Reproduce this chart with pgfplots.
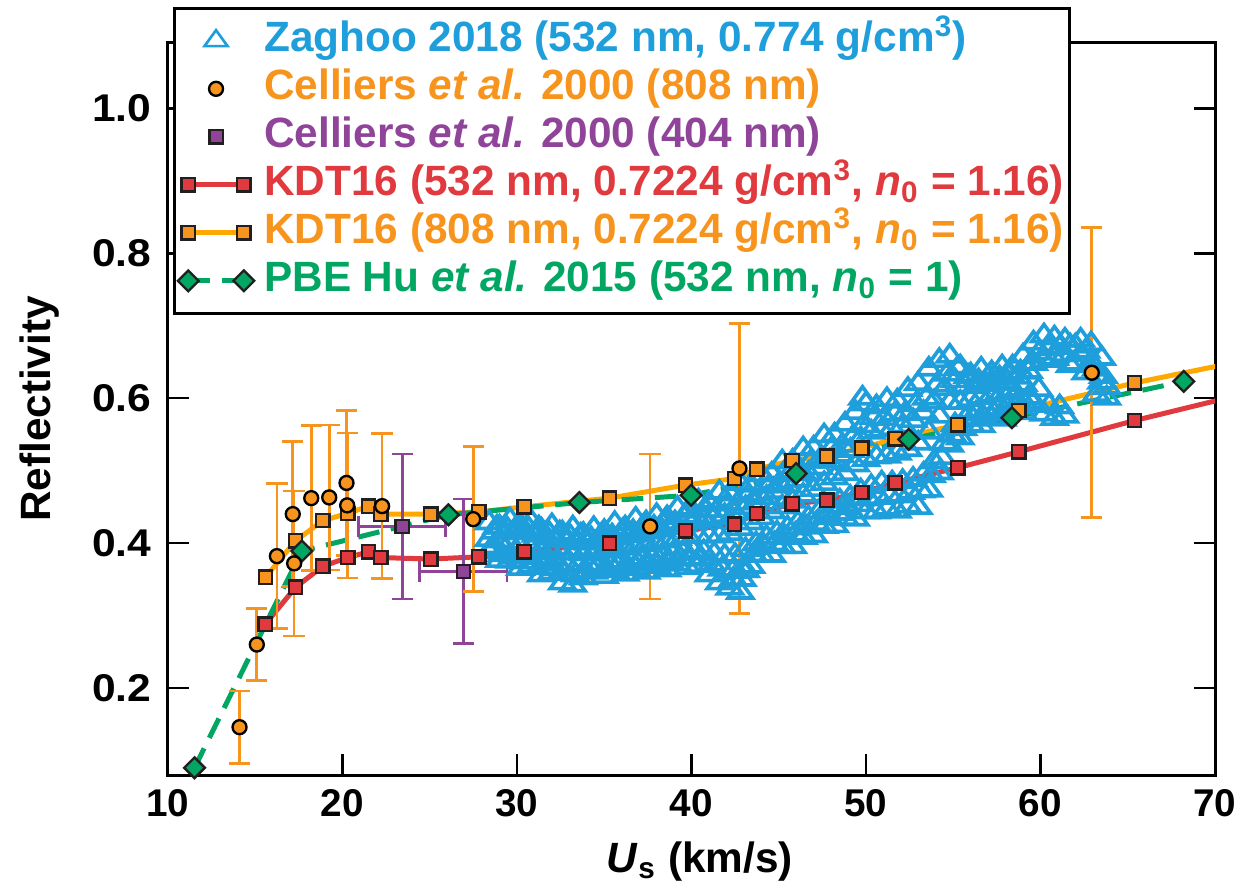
\documentclass[border=0pt]{standalone}
\usepackage{fontspec}
\setmainfont{Liberation Sans}
\usepackage{pgfplots}
\pgfplotsset{compat=1.18}
\definecolor{zblue}{HTML}{1E9EDA}
\definecolor{corange}{HTML}{F7941D}
\definecolor{cpurple}{HTML}{8F4499}
\definecolor{kred}{HTML}{E0393E}
\definecolor{kline}{HTML}{FFA800}
\definecolor{pgreen}{HTML}{00A661}
\definecolor{edge}{HTML}{231F20}
\newcommand\legfont{\fontsize{12.7}{14}\selectfont\bfseries}
\newcommand\tickfont{\fontsize{11.6}{12}\selectfont\bfseries}
\pgfplotsset{
  lineleg/.style={legend image code/.code={\path (-2.2pt,0pt) (18.9pt,0pt); \draw[##1] plot coordinates {(0pt,0pt) (16.7pt,0pt)};}},
  markleg/.style={legend image code/.code={\path (-2.2pt,0pt) (18.9pt,0pt); \draw[##1] plot coordinates {(8.35pt,0pt)};}},
}
\begin{document}
\begin{tikzpicture}
\path (-50.4pt,-34.5pt) rectangle (324.9pt,232.5pt);
\begin{axis}[
  at={(0,0)}, anchor=south west,
  scale only axis, width=314.1pt, height=219.6pt,
  xmin=10, xmax=70, ymin=0.08, ymax=1.09,
  xtick={10,20,...,70}, ytick={0.2,0.4,0.6,0.8,1.0},
  tick align=inside, major tick length=6.3pt,
  every tick/.style={black, line width=0.8pt},
  axis line style={line width=0.9pt},
  /pgf/number format/assume math mode=true,
  yticklabel style={/pgf/number format/fixed, /pgf/number format/fixed zerofill, /pgf/number format/precision=1, font=\tickfont, inner sep=0pt, xshift=-4.8pt, xscale=1.1},
  xticklabel style={font=\tickfont, inner sep=0pt, yshift=-4.2pt},
  every axis x label/.style={at={(axis description cs:0.508,0)}, anchor=base, yshift=-29.1pt, font=\legfont},
  every axis y label/.style={at={(axis description cs:-0.1223,0.5)}, rotate=90, anchor=center, font=\legfont},
  xlabel={\textit{U}\textsubscript{s} (km/s)},
  ylabel={Reflectivity},
  legend cell align=left,
  legend style={at={(axis description cs:0,1)}, anchor=north west, xshift=1.5pt, yshift=10.8pt,
    draw=black, line width=0.9pt, fill=white, font=\legfont,
    inner xsep=1pt, inner ysep=2.5pt, column sep=2.5pt, row sep=0pt,
    nodes={text height=9.8pt, text depth=3.6pt, inner sep=0.5pt}},
]
% legend images
\addlegendimage{zblue, only marks, mark=triangle, mark size=3.2pt, mark options={xscale=1.25, line width=0.8pt}, markleg}
\addlegendentry{\textcolor{zblue}{Zaghoo 2018 (532 nm, 0.774 g/cm\textsuperscript{3})}}
\addlegendimage{only marks, mark=*, mark size=2.1pt, mark options={fill=corange, draw=black, line width=0.7pt}, markleg}
\addlegendentry{\textcolor{corange}{Celliers \textit{et al.} 2000 (808 nm)}}
\addlegendimage{only marks, mark=square*, mark size=2pt, mark options={fill=cpurple, draw=edge, line width=0.7pt}, markleg}
\addlegendentry{\textcolor{cpurple}{Celliers \textit{et al.} 2000 (404 nm)}}
\addlegendimage{kred, line width=1.5pt, mark=square*, mark size=2pt, mark options={fill=kred, draw=edge, line width=0.7pt, solid}, lineleg}
\addlegendentry{\textcolor{kred}{KDT16 (532 nm, 0.7224 g/cm\textsuperscript{3}, \textit{n}\textsubscript{0} = 1.16)}}
\addlegendimage{kline, line width=1.5pt, mark=square*, mark size=2pt, mark options={fill=corange, draw=edge, line width=0.7pt, solid}, lineleg}
\addlegendentry{\textcolor{corange}{KDT16 (808 nm, 0.7224 g/cm\textsuperscript{3}, \textit{n}\textsubscript{0} = 1.16)}}
\addlegendimage{pgreen, line width=1.5pt, dash pattern=on 6.5pt off 3.5pt, mark=square*, mark size=2.2pt, mark options={rotate=45, fill=pgreen, draw=edge, line width=0.7pt, solid}, lineleg}
\addlegendentry{\textcolor{pgreen}{PBE Hu \textit{et al.} 2015 (532 nm, \textit{n}\textsubscript{0} = 1)}}

% Zaghoo 2018
\addplot[forget plot, zblue, only marks, mark=triangle, mark size=3.4pt, mark options={xscale=1.25, line width=1.1pt}] coordinates {
(28.4,.388) (28.7,.395) (28.4,.405) (28.7,.415) (28.4,.428)
(29.0,.376) (29.3,.391) (29.0,.403) (29.3,.415) (29.0,.422)
(29.6,.375) (29.9,.387) (29.6,.401) (29.9,.415) (29.6,.432)
(30.2,.365) (30.5,.383) (30.2,.398) (30.5,.414) (30.2,.425)
(30.8,.368) (31.1,.380) (30.8,.395) (31.1,.411) (30.8,.430)
(31.4,.356) (31.7,.375) (31.4,.391) (31.7,.407) (31.4,.418)
(32.0,.359) (32.3,.371) (32.0,.388) (32.3,.404) (32.0,.424)
(32.6,.345) (32.9,.371) (32.6,.387) (32.9,.403) (32.6,.414)
(33.2,.342) (33.5,.370) (33.2,.386) (33.5,.401) (33.2,.421)
(33.8,.352) (34.1,.370) (33.8,.385) (34.1,.400) (33.8,.412)
(34.4,.360) (34.7,.371) (34.4,.387) (34.7,.402) (34.4,.420)
(35.0,.354) (35.3,.373) (35.0,.389) (35.3,.404) (35.0,.416)
(35.6,.362) (35.9,.375) (35.6,.391) (35.9,.407) (35.6,.427)
(36.2,.357) (36.5,.377) (36.2,.393) (36.5,.410) (36.2,.421)
(36.8,.365) (37.1,.379) (36.8,.396) (37.1,.412) (36.8,.433)
(37.4,.360) (37.7,.381) (37.4,.398) (37.7,.415) (37.4,.428)
(38.0,.368) (38.3,.383) (38.0,.400) (38.3,.418) (38.0,.438)
(38.6,.363) (38.9,.385) (38.6,.403) (38.9,.421) (38.6,.435)
(39.2,.371) (39.5,.387) (39.2,.406) (39.5,.425) (39.2,.448)
(39.8,.366) (40.1,.389) (39.8,.409) (40.1,.429) (39.8,.444)
(40.4,.369) (40.7,.388) (40.4,.410) (40.7,.432) (40.4,.458)
(41.0,.356) (41.3,.385) (41.0,.410) (41.3,.435) (41.0,.455)
(41.6,.345) (41.9,.382) (41.6,.410) (41.9,.438) (41.6,.470)
(42.2,.338) (42.5,.383) (42.2,.413) (42.5,.442) (42.2,.468) (42.4,.350)
(42.8,.332) (43.1,.391) (42.8,.420) (43.1,.449) (42.8,.482) (42.9,.350) (43.1,.362)
(43.4,.368) (43.7,.399) (43.4,.428) (43.7,.456) (43.4,.480)
(44.0,.383) (44.3,.408) (44.0,.435) (44.3,.463) (44.0,.494)
(44.6,.383) (44.9,.414) (44.6,.443) (44.9,.471) (44.6,.495)
(45.2,.395) (45.5,.421) (45.2,.450) (45.5,.479) (45.2,.512)
(45.8,.395) (46.1,.428) (45.8,.458) (46.1,.487) (45.8,.513)
(46.4,.408) (46.7,.435) (46.4,.466) (46.7,.496) (46.4,.530)
(47.0,.410) (47.3,.443) (47.0,.474) (47.3,.504) (47.0,.531)
(47.6,.423) (47.9,.451) (47.6,.482) (47.9,.513) (47.6,.548)
(48.2,.424) (48.5,.458) (48.2,.490) (48.5,.521) (48.2,.549)
(48.8,.434) (49.1,.463) (48.8,.496) (49.1,.528) (48.8,.564)
(49.4,.433) (49.7,.472) (49.4,.508) (49.7,.544) (49.4,.580)
(50.0,.443) (50.3,.478) (50.0,.515) (50.3,.553) (50.0,.592) (49.8,.600)
(50.6,.443) (50.9,.483) (50.6,.519) (50.9,.556) (50.6,.588)
(51.2,.448) (51.5,.483) (51.2,.520) (51.5,.558) (51.2,.598)
(51.8,.444) (52.1,.485) (51.8,.524) (52.1,.562) (51.8,.596)
(52.4,.451) (52.7,.488) (52.4,.529) (52.7,.569) (52.4,.612)
(53.0,.449) (53.3,.495) (53.0,.538) (53.3,.580) (53.0,.620)
(53.6,.473) (53.9,.512) (53.6,.553) (53.9,.595) (53.6,.640)
(54.2,.497) (54.5,.538) (54.2,.575) (54.5,.613) (54.2,.652)
(54.8,.535) (55.1,.563) (54.8,.594) (55.1,.624) (54.8,.658)
(55.4,.545) (55.7,.571) (55.4,.594) (55.7,.617) (55.4,.643)
(56.0,.563) (56.3,.579) (56.0,.598) (56.3,.616) (56.0,.632)
(56.6,.562) (56.9,.583) (56.6,.601) (56.9,.619) (56.6,.640)
(57.2,.572) (57.5,.586) (57.2,.604) (57.5,.621) (57.2,.635)
(57.8,.571) (58.1,.590) (57.8,.607) (58.1,.623) (57.8,.643)
(58.4,.581) (58.7,.595) (58.4,.612) (58.7,.629) (58.4,.643)
(59.0,.580) (59.3,.601) (59.0,.619) (59.3,.637) (59.0,.658)
(59.6,.595) (59.9,.612) (59.6,.648) (59.9,.662) (59.6,.676)
(60.2,.578) (60.5,.590) (60.2,.652) (60.5,.668) (60.2,.686)
(60.8,.572) (61.1,.588) (60.8,.655) (61.1,.670) (60.8,.683)
(61.4,.575) (61.7,.645) (61.4,.660) (61.7,.672) (61.4,.680)
(62.0,.648) (62.3,.660) (62.0,.672) (62.3,.680)
(62.6,.635) (62.9,.650) (62.6,.665) (62.9,.675)
(63.2,.605) (63.5,.622) (63.2,.640) (63.5,.655)
(63.8,.600) (63.8,.615) (63.6,.630)
(28.55,.392) (28.85,.422) (29.15,.384) (29.45,.419) (29.75,.381) (30.05,.424)
(30.35,.374) (30.65,.420) (30.95,.374) (31.25,.421) (31.55,.366) (31.85,.413)
(32.15,.365) (32.45,.414) (32.75,.358) (33.05,.409) (33.35,.356) (33.65,.411)
(33.95,.361) (34.25,.406) (34.55,.366) (34.85,.411) (35.15,.364) (35.45,.410)
(35.75,.369) (36.05,.417) (36.35,.367) (36.65,.416) (36.95,.372) (37.25,.423)
(37.55,.371) (37.85,.422) (38.15,.376) (38.45,.428) (38.75,.374) (39.05,.428)
(39.35,.379) (39.65,.437) (39.95,.378) (40.25,.437) (40.55,.379) (40.85,.445)
(41.15,.371) (41.45,.445) (41.75,.364) (42.05,.454) (42.35,.361) (42.65,.455)
(42.95,.362) (43.25,.466) (43.55,.384) (43.85,.468) (44.15,.396) (44.45,.479)
(44.75,.399) (45.05,.483) (45.35,.408) (45.65,.496) (45.95,.412) (46.25,.500)
(46.55,.422) (46.85,.513) (47.15,.427) (47.45,.518) (47.75,.437) (48.05,.531)
(48.35,.441) (48.65,.535) (48.95,.449) (49.25,.546) (49.55,.453) (49.85,.562)
(50.15,.461) (50.45,.573) (50.75,.463) (51.05,.572) (51.35,.466) (51.65,.578)
(51.95,.465) (52.25,.579) (52.55,.470) (52.85,.591) (53.15,.472) (53.45,.600)
(53.75,.493) (54.05,.618) (54.35,.518) (54.65,.633) (54.95,.549) (55.25,.641)
(55.55,.558) (55.85,.630) (56.15,.571) (56.45,.624) (56.75,.573) (57.05,.630)
(57.35,.579) (57.65,.628) (57.95,.581) (58.25,.633) (58.55,.588) (58.85,.636)
(59.15,.591) (59.45,.648)
};

% lines
\addplot[forget plot, kred, line width=1.5pt] coordinates {
(15.57,.288) (17.31,.339) (18.87,.368) (20.30,.380) (21.49,.388) (22.20,.380) (25.06,.378) (27.81,.381) (30.41,.388) (35.30,.400) (39.66,.417) (42.46,.426) (43.74,.441) (45.77,.454) (47.75,.459) (49.76,.470) (51.67,.483) (55.26,.504) (58.76,.526) (65.39,.569) (70.5,.599)};
\addplot[forget plot, kline, line width=1.5pt] coordinates {
(15.59,.353) (17.31,.403) (18.87,.431) (20.30,.441) (21.49,.451) (22.20,.440) (25.06,.440) (27.81,.443) (30.41,.450) (35.30,.462) (39.66,.480) (42.46,.489) (43.74,.502) (45.77,.514) (47.75,.520) (49.76,.531) (51.67,.544) (55.26,.563) (58.76,.583) (65.39,.621) (70.5,.646)};
\addplot[forget plot, pgreen, line width=1.5pt, dash pattern=on 6.5pt off 3.5pt] coordinates {
(11.52,.090) (17.67,.389) (26.07,.439) (33.58,.456) (39.98,.466) (46.0,.496) (52.45,.543) (58.36,.573) (68.21,.623)};
% markers
\addplot[forget plot, only marks, mark=square*, mark size=2pt, mark options={fill=kred, draw=edge, line width=0.7pt}] coordinates {
(15.57,.288) (17.31,.339) (18.87,.368) (20.30,.380) (21.49,.388) (22.20,.380) (25.06,.378) (27.81,.381) (30.41,.388) (35.30,.400) (39.66,.417) (42.46,.426) (43.74,.441) (45.77,.454) (47.75,.459) (49.76,.470) (51.67,.483) (55.26,.504) (58.76,.526) (65.39,.569)};
\addplot[forget plot, only marks, mark=square*, mark size=2pt, mark options={fill=corange, draw=edge, line width=0.7pt}] coordinates {
(15.59,.353) (17.31,.403) (18.87,.431) (20.30,.441) (21.49,.451) (22.20,.440) (25.06,.440) (27.81,.443) (30.41,.450) (35.30,.462) (39.66,.480) (42.46,.489) (43.74,.502) (45.77,.514) (47.75,.520) (49.76,.531) (51.67,.544) (55.26,.563) (58.76,.583) (65.39,.621)};
\addplot[forget plot, only marks, mark=square*, mark size=2.2pt, mark options={rotate=45, fill=pgreen, draw=edge, line width=0.7pt}] coordinates {
(11.52,.090) (17.67,.389) (26.07,.439) (33.58,.456) (39.98,.466) (46.0,.496) (52.45,.543) (58.36,.573) (68.21,.623)};

% Celliers 404 nm
\addplot[forget plot, cpurple, only marks, mark=square*, mark size=2pt, mark options={fill=cpurple, draw=edge, line width=0.7pt},
  error bars/.cd, x dir=both, x explicit, y dir=both, y explicit,
  error bar style={line width=0.8pt, cpurple},
  error mark options={rotate=90, mark size=3.2pt, line width=0.8pt, cpurple}] coordinates {
(23.42,0.423) +- (2.5,0.1)
(26.93,0.361) +- (2.5,0.1)};
% Celliers 808 nm
\addplot[forget plot, corange, only marks, mark=*, mark size=2.1pt, mark options={fill=corange, draw=black, line width=0.7pt},
  error bars/.cd, y dir=both, y explicit,
  error bar style={line width=0.8pt, corange},
  error mark options={rotate=90, mark size=3.2pt, line width=0.8pt, corange}] coordinates {
(14.10,0.146) +- (0,0.05)
(15.09,0.260) +- (0,0.05)
(16.24,0.382) +- (0,0.1)
(17.15,0.440) +- (0,0.1)
(17.23,0.372) +- (0,0.1)
(18.21,0.462) +- (0,0.1)
(19.24,0.463) +- (0,0.1)
(20.23,0.483) +- (0,0.1)
(20.27,0.452) +- (0,0.1)
(22.27,0.451) +- (0,0.1)
(27.49,0.433) +- (0,0.1)
(37.63,0.423) +- (0,0.1)
(42.75,0.503) +- (0,0.2)
(62.94,0.635) +- (0,0.2)};
\end{axis}
\end{tikzpicture}
\end{document}
